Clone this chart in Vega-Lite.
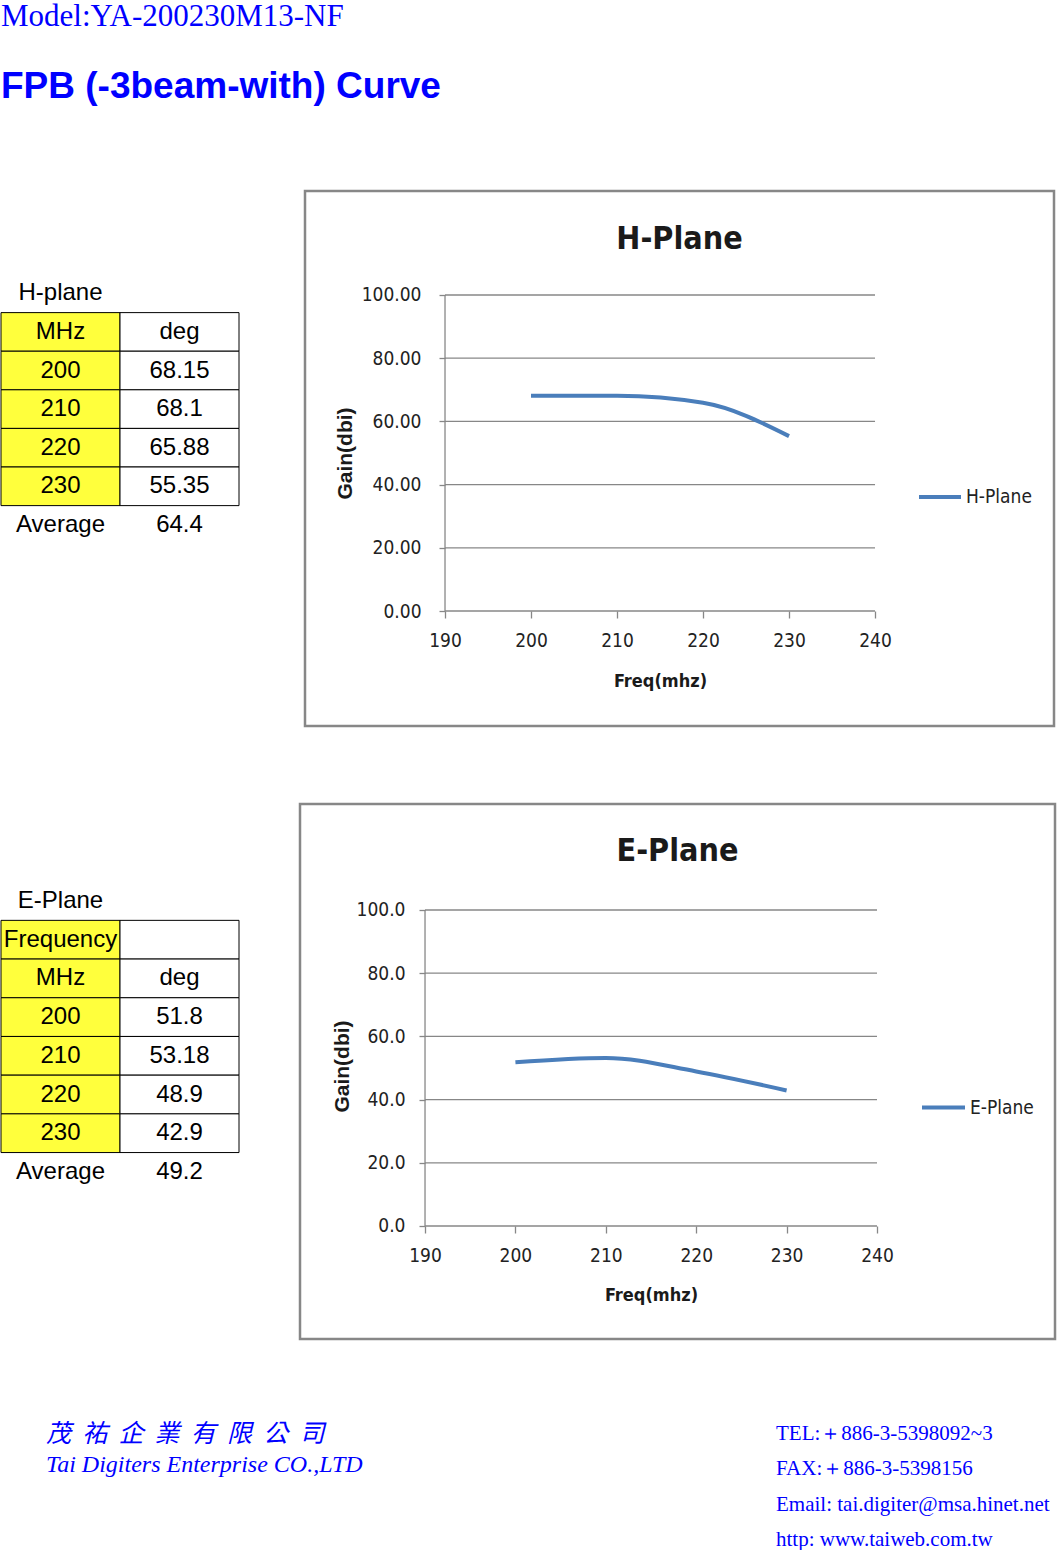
{
  "$schema": "https://vega.github.io/schema/vega-lite/v6.json",
  "padding": 0,
  "background": "white",
  "autosize": {"type": "pad"},
  "spacing": 74,
  "resolve": {"scale": {"color": "independent", "fill": "independent"}, "legend": {"color": "independent"}},
  "config": {
    "view": {"stroke": null},
    "axis": {"labelColor": "#222222", "tickColor": "#878787", "titleColor": "#1a1a1a"}
  },
  "datasets": {
    "head": [
      {"line": "model", "c": "a", "text": "Model:YA-200230M13-NF"},
      {"line": "title", "c": "a", "text": "FPB (-3beam-with) Curve"}
    ],
    "htab": [
      {"row": "label", "col": "c1", "text": "H-plane"},
      {"row": "hdr", "col": "c1", "text": "MHz"},
      {"row": "hdr", "col": "c2", "text": "deg"},
      {"row": "r200", "col": "c1", "text": "200"},
      {"row": "r200", "col": "c2", "text": "68.15"},
      {"row": "r210", "col": "c1", "text": "210"},
      {"row": "r210", "col": "c2", "text": "68.1"},
      {"row": "r220", "col": "c1", "text": "220"},
      {"row": "r220", "col": "c2", "text": "65.88"},
      {"row": "r230", "col": "c1", "text": "230"},
      {"row": "r230", "col": "c2", "text": "55.35"},
      {"row": "avg", "col": "c1", "text": "Average"},
      {"row": "avg", "col": "c2", "text": "64.4"}
    ],
    "etab": [
      {"row": "label", "col": "c1", "text": "E-Plane"},
      {"row": "freq", "col": "c1", "text": "Frequency"},
      {"row": "freq", "col": "c2", "text": ""},
      {"row": "hdr", "col": "c1", "text": "MHz"},
      {"row": "hdr", "col": "c2", "text": "deg"},
      {"row": "r200", "col": "c1", "text": "200"},
      {"row": "r200", "col": "c2", "text": "51.8"},
      {"row": "r210", "col": "c1", "text": "210"},
      {"row": "r210", "col": "c2", "text": "53.18"},
      {"row": "r220", "col": "c1", "text": "220"},
      {"row": "r220", "col": "c2", "text": "48.9"},
      {"row": "r230", "col": "c1", "text": "230"},
      {"row": "r230", "col": "c2", "text": "42.9"},
      {"row": "avg", "col": "c1", "text": "Average"},
      {"row": "avg", "col": "c2", "text": "49.2"}
    ],
    "hline": [
      {"freq": 200, "gain": 68.15, "series": "H-Plane"},
      {"freq": 210, "gain": 68.1, "series": "H-Plane"},
      {"freq": 220, "gain": 65.88, "series": "H-Plane"},
      {"freq": 230, "gain": 55.35, "series": "H-Plane"}
    ],
    "eline": [
      {"freq": 200, "gain": 51.8, "series": "E-Plane"},
      {"freq": 210, "gain": 53.18, "series": "E-Plane"},
      {"freq": 220, "gain": 48.9, "series": "E-Plane"},
      {"freq": 230, "gain": 42.9, "series": "E-Plane"}
    ],
    "grid": [{"gain": 0}, {"gain": 20}, {"gain": 40}, {"gain": 60}, {"gain": 80}, {"gain": 100}],
    "one": [{"a": 1}],
    "footL": [
      {"ly": 0, "c": "a", "text": "茂\u00a0 祐\u00a0 企\u00a0 業\u00a0 有\u00a0 限\u00a0 公\u00a0 司"},
      {"ly": 1, "c": "a", "text": "Tai Digiters Enterprise CO.,LTD"}
    ],
    "footR": [
      {"ry": 0, "c": "a", "text": "TEL:＋886-3-5398092~3"},
      {"ry": 1, "c": "a", "text": "FAX:＋886-3-5398156"},
      {"ry": 2, "c": "a", "text": "Email: tai.digiter@msa.hinet.net"},
      {"ry": 3, "c": "a", "text": "http: www.taiweb.com.tw"}
    ]
  },
  "vconcat": [
    {
      "width": 1057,
      "height": 115,
      "data": {"name": "head"},
      "encoding": {
        "x": {"field": "c", "type": "nominal", "scale": {"type": "point", "domain": ["a"], "padding": 0, "align": 0}, "axis": null},
        "y": {"field": "line", "type": "nominal", "scale": {"type": "point", "domain": ["model", "title"], "padding": 0.094, "align": 0.083}, "axis": null},
        "text": {"field": "text"}
      },
      "layer": [
        {
          "transform": [{"filter": "datum.line == 'model'"}],
          "mark": {"type": "text", "align": "left", "baseline": "top", "font": "Liberation Serif, Times New Roman, serif", "fontSize": 31, "color": "#0000ff"}
        },
        {
          "transform": [{"filter": "datum.line == 'title'"}],
          "mark": {"type": "text", "align": "left", "baseline": "alphabetic", "font": "Liberation Sans, Arial, sans-serif", "fontSize": 37, "fontWeight": "bold", "color": "#0000ff"}
        }
      ]
    },
    {
      "hconcat": [
        {
          "width": 238,
          "height": 535,
          "data": {"name": "htab"},
          "encoding": {
            "x": {"field": "col", "type": "nominal", "scale": {"type": "band", "domain": ["c1", "c2"], "paddingInner": 0, "paddingOuter": 0}, "axis": null},
            "y": {"field": "row", "type": "nominal", "scale": {"type": "band", "domain": ["_a", "_b", "label", "hdr", "r200", "r210", "r220", "r230", "avg", "_c", "_d", "_e", "_f"], "paddingInner": 0, "paddingOuter": 0.43, "align": 0.175}, "axis": null}
          },
          "layer": [
            {
              "transform": [{"filter": "datum.row != 'label' && datum.row != 'avg'"}],
              "mark": {"type": "rect", "stroke": "#000000", "strokeWidth": 1},
              "encoding": {"fill": {"field": "col", "type": "nominal", "scale": {"domain": ["c1", "c2"], "range": ["#ffff3c", "#ffffff"]}, "legend": null}}
            },
            {
              "mark": {"type": "text", "align": "center", "baseline": "middle", "font": "Liberation Sans, Arial, sans-serif", "fontSize": 24, "color": "#000000"},
              "encoding": {"text": {"field": "text"}}
            }
          ]
        },
        {
          "width": 749,
          "height": 535,
          "view": {"stroke": "#878787", "strokeWidth": 2.5},
          "title": {"text": "H-Plane", "anchor": "middle", "orient": "top", "offset": -47, "dy": 33, "baseline": "middle", "font": "DejaVu Sans Condensed, sans-serif", "fontSize": 32, "fontWeight": "bold", "color": "#1a1a1a"},
          "layer": [
            {
              "data": {"name": "grid"},
              "mark": {"type": "rule", "color": "#878787", "strokeWidth": 1.3},
              "encoding": {
                "y": {"field": "gain", "type": "quantitative", "scale": {"domain": [-36.39, 132.91], "nice": false, "zero": false}},
                "x": {"datum": 190, "type": "quantitative", "scale": {"domain": [173.72, 260.81], "nice": false, "zero": false}},
                "x2": {"datum": 240}
              }
            },
            {
              "data": {"name": "one"},
              "mark": {"type": "rule", "color": "#878787", "strokeWidth": 1.3},
              "encoding": {
                "x": {"datum": 190, "type": "quantitative"},
                "y": {"datum": 0, "type": "quantitative"},
                "y2": {"datum": 100}
              }
            },
            {
              "data": {"name": "hline"},
              "mark": {"type": "line", "interpolate": "monotone", "strokeWidth": 4},
              "encoding": {
                "x": {"field": "freq", "type": "quantitative", "axis": {"values": [190, 200, 210, 220, 230, 240], "format": "d", "offset": -115, "domain": false, "grid": false, "tickSize": 7, "tickWidth": 1.3, "labelFont": "DejaVu Sans Condensed, sans-serif", "labelFontSize": 19, "labelPadding": 13, "title": "Freq(mhz)", "titleFont": "DejaVu Sans Condensed, sans-serif", "titleFontSize": 18, "titleFontWeight": "bold", "titleX": 355, "titleY": 70, "titleBaseline": "middle", "titleAlign": "center"}},
                "y": {"field": "gain", "type": "quantitative", "axis": {"values": [0, 20, 40, 60, 80, 100], "format": ".2f", "offset": -140, "domain": false, "grid": false, "tickSize": 6, "tickWidth": 1.3, "labelFont": "DejaVu Sans Condensed, sans-serif", "labelFontSize": 19, "labelPadding": 18, "title": "Gain(dbi)", "titleFont": "Liberation Sans, Arial, sans-serif", "titleFontSize": 21, "titleFontWeight": "bold", "titleAngle": 270, "titleX": -100, "titleY": 262, "titleBaseline": "middle", "titleAlign": "center"}},
                "color": {"field": "series", "type": "nominal", "scale": {"domain": ["H-Plane"], "range": ["#4a7ebb"]}, "legend": {"orient": "none", "legendX": 612, "legendY": 283, "title": null, "padding": 0, "symbolType": "stroke", "symbolSize": 1764, "symbolStrokeWidth": 4, "labelFont": "DejaVu Sans Condensed, sans-serif", "labelFontSize": 19, "labelColor": "#222222", "labelOffset": 3}}
              }
            }
          ]
        }
      ],
      "spacing": 63,
      "resolve": {"scale": {"color": "independent", "fill": "independent"}, "legend": {"color": "independent"}}
    },
    {
      "hconcat": [
        {
          "width": 238,
          "height": 535,
          "data": {"name": "etab"},
          "encoding": {
            "x": {"field": "col", "type": "nominal", "scale": {"type": "band", "domain": ["c1", "c2"], "paddingInner": 0, "paddingOuter": 0}, "axis": null},
            "y": {"field": "row", "type": "nominal", "scale": {"type": "band", "domain": ["_a", "_b", "label", "freq", "hdr", "r200", "r210", "r220", "r230", "avg", "_c", "_d", "_e"], "paddingInner": 0, "paddingOuter": 0.412, "align": 0.008}, "axis": null}
          },
          "layer": [
            {
              "transform": [{"filter": "datum.row != 'label' && datum.row != 'avg'"}],
              "mark": {"type": "rect", "stroke": "#000000", "strokeWidth": 1},
              "encoding": {"fill": {"field": "col", "type": "nominal", "scale": {"domain": ["c1", "c2"], "range": ["#ffff3c", "#ffffff"]}, "legend": null}}
            },
            {
              "mark": {"type": "text", "align": "center", "baseline": "middle", "font": "Liberation Sans, Arial, sans-serif", "fontSize": 24, "color": "#000000"},
              "encoding": {"text": {"field": "text"}}
            }
          ]
        },
        {
          "width": 755,
          "height": 535,
          "view": {"stroke": "#878787", "strokeWidth": 2.5},
          "title": {"text": "E-Plane", "anchor": "middle", "orient": "top", "offset": -48, "dy": 31, "baseline": "middle", "font": "DejaVu Sans Condensed, sans-serif", "fontSize": 32, "fontWeight": "bold", "color": "#1a1a1a"},
          "layer": [
            {
              "data": {"name": "grid"},
              "mark": {"type": "rule", "color": "#878787", "strokeWidth": 1.3},
              "encoding": {
                "y": {"field": "gain", "type": "quantitative", "scale": {"domain": [-35.76, 133.54], "nice": false, "zero": false}},
                "x": {"datum": 190, "type": "quantitative", "scale": {"domain": [176.17, 259.69], "nice": false, "zero": false}},
                "x2": {"datum": 240}
              }
            },
            {
              "data": {"name": "one"},
              "mark": {"type": "rule", "color": "#878787", "strokeWidth": 1.3},
              "encoding": {
                "x": {"datum": 190, "type": "quantitative"},
                "y": {"datum": 0, "type": "quantitative"},
                "y2": {"datum": 100}
              }
            },
            {
              "data": {"name": "eline"},
              "mark": {"type": "line", "interpolate": "monotone", "strokeWidth": 4},
              "encoding": {
                "x": {"field": "freq", "type": "quantitative", "axis": {"values": [190, 200, 210, 220, 230, 240], "format": "d", "offset": -113, "domain": false, "grid": false, "tickSize": 7, "tickWidth": 1.3, "labelFont": "DejaVu Sans Condensed, sans-serif", "labelFontSize": 19, "labelPadding": 13, "title": "Freq(mhz)", "titleFont": "DejaVu Sans Condensed, sans-serif", "titleFontSize": 18, "titleFontWeight": "bold", "titleX": 351, "titleY": 69, "titleBaseline": "middle", "titleAlign": "center"}},
                "y": {"field": "gain", "type": "quantitative", "axis": {"values": [0, 20, 40, 60, 80, 100], "format": ".1f", "offset": -125, "domain": false, "grid": false, "tickSize": 6, "tickWidth": 1.3, "labelFont": "DejaVu Sans Condensed, sans-serif", "labelFontSize": 19, "labelPadding": 14, "title": "Gain(dbi)", "titleFont": "Liberation Sans, Arial, sans-serif", "titleFontSize": 21, "titleFontWeight": "bold", "titleAngle": 270, "titleX": -83, "titleY": 262, "titleBaseline": "middle", "titleAlign": "center"}},
                "color": {"field": "series", "type": "nominal", "scale": {"domain": ["E-Plane"], "range": ["#4a7ebb"]}, "legend": {"orient": "none", "legendX": 620, "legendY": 280, "title": null, "padding": 0, "symbolType": "stroke", "symbolSize": 1849, "symbolStrokeWidth": 4, "labelFont": "DejaVu Sans Condensed, sans-serif", "labelFontSize": 19, "labelColor": "#222222", "labelOffset": 3}}
              }
            }
          ]
        }
      ],
      "spacing": 58,
      "resolve": {"scale": {"color": "independent", "fill": "independent"}, "legend": {"color": "independent"}}
    },
    {
      "hconcat": [
        {
          "width": 400,
          "height": 69,
          "data": {"name": "footL"},
          "encoding": {
            "x": {"field": "c", "type": "nominal", "scale": {"type": "point", "domain": ["a"], "padding": 0, "align": 0.1125}, "axis": null},
            "y": {"field": "ly", "type": "ordinal", "scale": {"type": "point", "domain": [0, 1], "padding": 0.613, "align": 0.5}, "axis": null},
            "text": {"field": "text"}
          },
          "layer": [
            {
              "transform": [{"filter": "datum.ly == 0"}],
              "mark": {"type": "text", "align": "left", "baseline": "middle", "font": "Noto Sans CJK TC, sans-serif", "fontSize": 25, "fontStyle": "italic", "color": "#0000ff"}
            },
            {
              "transform": [{"filter": "datum.ly == 1"}],
              "mark": {"type": "text", "align": "left", "baseline": "middle", "font": "Liberation Serif, Times New Roman, serif", "fontSize": 24, "fontStyle": "italic", "color": "#0000ff"}
            }
          ]
        },
        {
          "width": 282,
          "height": 137,
          "data": {"name": "footR"},
          "mark": {"type": "text", "align": "left", "baseline": "middle", "font": "Liberation Serif, Times New Roman, serif", "fontSize": 21, "color": "#0000ff"},
          "encoding": {
            "x": {"field": "c", "type": "nominal", "scale": {"type": "point", "domain": ["a"], "padding": 0, "align": 0}, "axis": null},
            "y": {"field": "ry", "type": "ordinal", "scale": {"type": "point", "domain": [0, 1, 2, 3], "padding": 0.439, "align": 0.613}, "axis": null},
            "text": {"field": "text"}
          }
        }
      ],
      "spacing": 375
    }
  ]
}
